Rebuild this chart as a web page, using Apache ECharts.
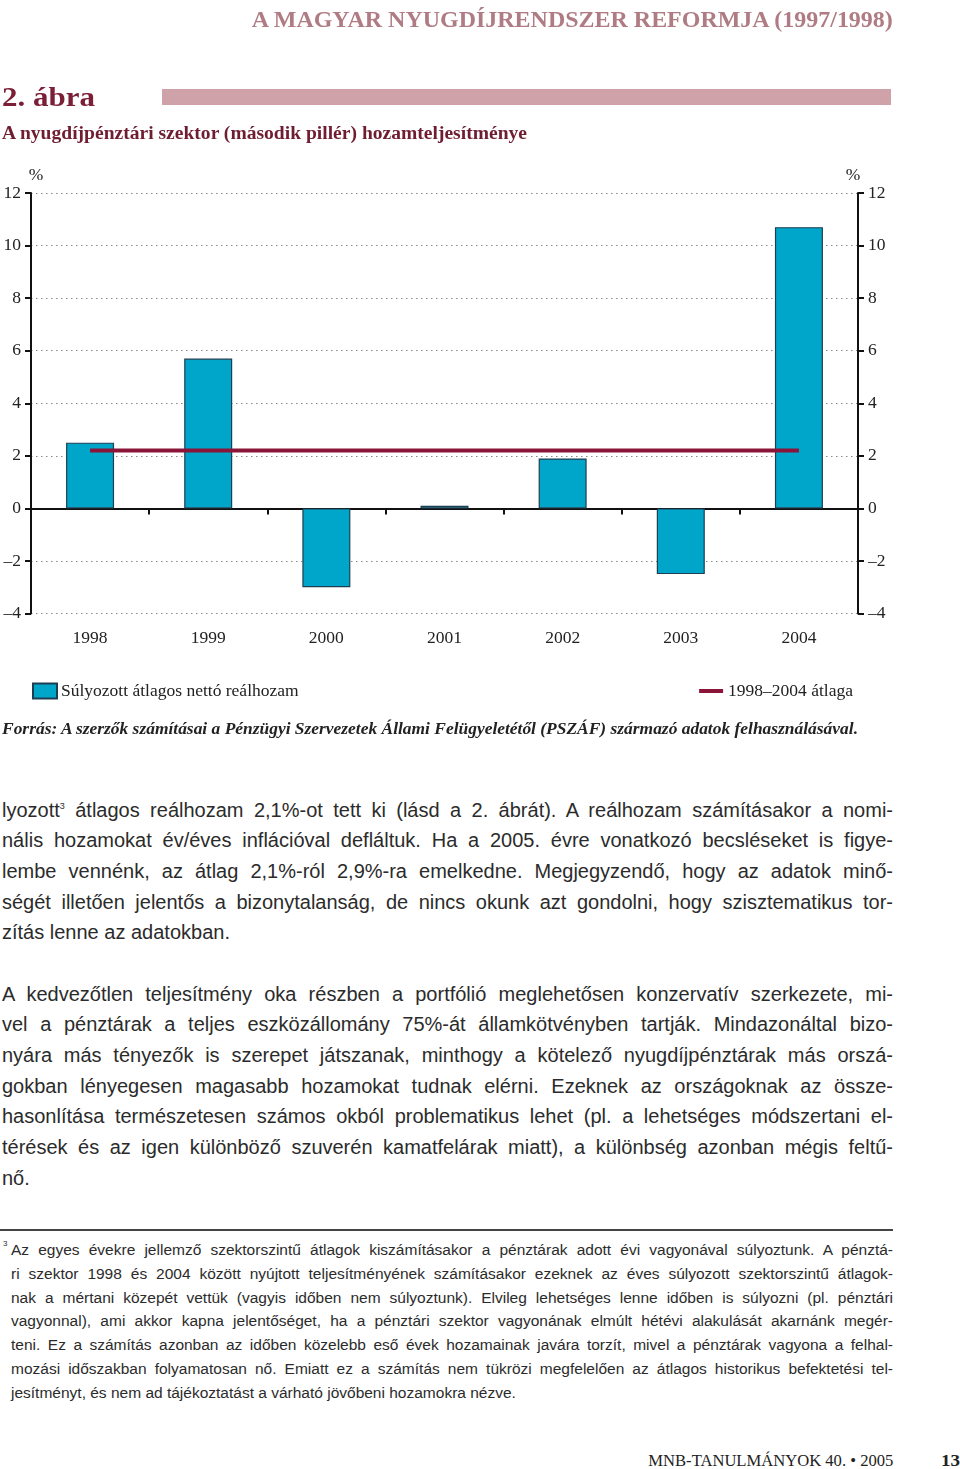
<!DOCTYPE html>
<html>
<head>
<meta charset="utf-8">
<script src="https://cdn.jsdelivr.net/npm/echarts@6/dist/echarts.min.js"></script>
<style>
  html, body { margin: 0; padding: 0; background: #fff; }
  body { width: 960px; height: 1469px; position: relative; overflow: hidden; }
  .abs { position: absolute; white-space: nowrap; }
  .serif { font-family: "Liberation Serif", "DejaVu Serif", serif; }
  .fit { display: inline-block; }
  #chart { position: absolute; left: 0; top: 0; width: 960px; height: 760px; }
  .body { position: absolute; font-family: "Liberation Sans", Arial, sans-serif; color: #2b2b2b; }
  .body div { white-space: nowrap; overflow: visible; }
  .body div.j { text-align: justify; text-align-last: justify; }
  .p1 div { height: 30.7px; }
  .p2 div { height: 23.8px; }
  sup { font-size: 0.45em; vertical-align: 0; position: relative; top: -0.9em; line-height: 0; }
</style>
</head>
<body>
<div id="chart"></div>

<div class="abs serif" style="right:67px; top:6px; line-height:26px; font-size:24px; font-weight:bold; color:#b07c84;">
  <span class="fit" data-w="641" data-o="right">A MAGYAR NYUGDÍJRENDSZER REFORMJA (1997/1998)</span>
</div>
<div class="abs serif" style="left:2px; top:82px; line-height:30px; font-size:28px; font-weight:bold; color:#7a1f36;">
  <span class="fit" data-w="93" data-o="left">2. ábra</span>
</div>
<div class="abs" style="left:162px; top:89px; width:729px; height:16px; background:#cfa2a9;"></div>
<div class="abs serif" style="left:2px; top:123px; line-height:20px; font-size:18px; font-weight:bold; color:#6f1d31;">
  <span class="fit" data-w="525" data-o="left">A nyugdíjpénztári szektor (második pillér) hozamteljesítménye</span>
</div>
<div class="abs serif" style="left:2px; top:719px; line-height:20px; font-size:16px; font-weight:bold; font-style:italic; color:#222;">
  <span class="fit" data-w="856" data-o="left">Forrás: A szerzők számításai a Pénzügyi Szervezetek Állami Felügyeletétől (PSZÁF) származó adatok felhasználásával.</span>
</div>

<div class="body p1" style="left:2px; top:794.6px; width:891px; font-size:20px; line-height:30.7px;">
  <div class="j">lyozott<sup>3</sup> átlagos reálhozam 2,1%-ot tett ki (lásd a 2. ábrát). A reálhozam számításakor a nomi-</div>
  <div class="j">nális hozamokat év/éves inflációval defláltuk. Ha a 2005. évre vonatkozó becsléseket is figye-</div>
  <div class="j">lembe vennénk, az átlag 2,1%-ról 2,9%-ra emelkedne. Megjegyzendő, hogy az adatok minő-</div>
  <div class="j">ségét illetően jelentős a bizonytalanság, de nincs okunk azt gondolni, hogy szisztematikus tor-</div>
  <div>zítás lenne az adatokban.</div>
  <div>&nbsp;</div>
  <div class="j">A kedvezőtlen teljesítmény oka részben a portfólió meglehetősen konzervatív szerkezete, mi-</div>
  <div class="j">vel a pénztárak a teljes eszközállomány 75%-át államkötvényben tartják. Mindazonáltal bizo-</div>
  <div class="j">nyára más tényezők is szerepet játszanak, minthogy a kötelező nyugdíjpénztárak más orszá-</div>
  <div class="j">gokban lényegesen magasabb hozamokat tudnak elérni. Ezeknek az országoknak az össze-</div>
  <div class="j">hasonlítása természetesen számos okból problematikus lehet (pl. a lehetséges módszertani el-</div>
  <div class="j">térések és az igen különböző szuverén kamatfelárak miatt), a különbség azonban mégis feltű-</div>
  <div>nő.</div>
</div>

<div class="abs" style="left:0; top:1229px; width:893px; height:2px; background:#444;"></div>
<div class="abs" style="left:3px; top:1240px; font-family:'Liberation Sans',Arial,sans-serif; font-size:8px; line-height:8px; color:#2b2b2b;">3</div>
<div class="body p2" style="left:11px; top:1238.1px; width:882px; font-size:15.5px; line-height:23.8px;">
  <div class="j">Az egyes évekre jellemző szektorszintű átlagok kiszámításakor a pénztárak adott évi vagyonával súlyoztunk. A pénztá-</div>
  <div class="j">ri szektor 1998 és 2004 között nyújtott teljesítményének számításakor ezeknek az éves súlyozott szektorszintű átlagok-</div>
  <div class="j">nak a mértani közepét vettük (vagyis időben nem súlyoztunk). Elvileg lehetséges lenne időben is súlyozni (pl. pénztári</div>
  <div class="j">vagyonnal), ami akkor kapna jelentőséget, ha a pénztári szektor vagyonának elmúlt hétévi alakulását akarnánk megér-</div>
  <div class="j">teni. Ez a számítás azonban az időben közelebb eső évek hozamainak javára torzít, mivel a pénztárak vagyona a felhal-</div>
  <div class="j">mozási időszakban folyamatosan nő. Emiatt ez a számítás nem tükrözi megfelelően az átlagos historikus befektetési tel-</div>
  <div>jesítményt, és nem ad tájékoztatást a várható jövőbeni hozamokra nézve.</div>
</div>

<div class="abs serif" style="right:67px; top:1452px; line-height:18px; font-size:16px; color:#222;">
  <span class="fit" data-w="245" data-o="right">MNB-TANULMÁNYOK 40. • 2005</span>
</div>
<div class="abs serif" style="right:0px; top:1452px; line-height:18px; font-size:17px; font-weight:bold; color:#222;">
  <span class="fit" data-w="19" data-o="right">13</span>
</div>

<script>
// ---- data ----
const years = ['1998', '1999', '2000', '2001', '2002', '2003', '2004'];
const netRealReturn = [2.5, 5.7, -3.0, 0.1, 1.9, -2.5, 10.7];
const periodAverage = [2.2, 2.2, 2.2, 2.2, 2.2, 2.2, 2.2];
const seriesNames = ['Súlyozott átlagos nettó reálhozam', '1998–2004 átlaga'];
const yMin = -4, yMax = 12, yStep = 2;

// ---- text fitting ----
document.querySelectorAll('.fit').forEach(el => {
  const w = el.getBoundingClientRect().width;
  const target = +el.dataset.w;
  el.style.transformOrigin = el.dataset.o + ' center';
  el.style.transform = 'scaleX(' + (target / w) + ')';
});
document.querySelectorAll('.body div.j').forEach(el => {
  const over = el.scrollWidth - el.clientWidth;
  if (over > 0) {
    const n = el.textContent.length;
    el.style.letterSpacing = (-(over + 2) / n) + 'px';
  }
});

// ---- chart ----
const serif = '"Liberation Serif", "DejaVu Serif", serif';
const fmt = v => String(v).replace('-', '–');
const chart = echarts.init(document.getElementById('chart'), null, { renderer: 'canvas' });
const yAxisBase = {
  type: 'value', min: yMin, max: yMax, interval: yStep,
  name: '%', nameLocation: 'end', nameGap: 9,
  axisLine: { show: true, onZero: false, lineStyle: { color: '#111', width: 2 } },
  axisTick: { show: true, inside: false, length: 6, lineStyle: { color: '#111', width: 2 } },
  axisLabel: { formatter: fmt, fontFamily: serif, fontSize: 17.5, color: '#222', margin: 10 }
};
chart.setOption({
  animation: false,
  grid: { left: 31, right: 102, top: 193, bottom: 146.5 },
  legend: [
    {
      left: 32, top: 682, padding: 0, itemWidth: 24, itemHeight: 15, itemGap: 10,
      data: [{ name: seriesNames[0], icon: 'rect' }],
      textStyle: { fontFamily: serif, fontSize: 17.5, color: '#222', padding: [0, 0, 0, -1] }
    },
    {
      right: 107, top: 682, padding: 0, itemWidth: 24, itemHeight: 4, itemGap: 10,
      data: [{ name: seriesNames[1], icon: 'rect' }],
      textStyle: { fontFamily: serif, fontSize: 17.5, color: '#222' }
    }
  ],
  xAxis: [
    {
      type: 'category', data: years, position: 'bottom',
      axisLine: { show: true, onZero: true, lineStyle: { color: '#111', width: 2 } },
      axisTick: { show: true, alignWithLabel: false, length: 6, lineStyle: { color: '#111', width: 2 } },
      axisLabel: { show: false },
      splitLine: { show: false }
    },
    {
      type: 'category', data: years, position: 'bottom', offset: 0,
      axisLine: { show: false, onZero: false },
      axisTick: { show: false },
      axisLabel: { show: true, fontFamily: serif, fontSize: 17.5, color: '#222', margin: 16 },
      splitLine: { show: false }
    }
  ],
  yAxis: [
    Object.assign({}, yAxisBase, {
      position: 'left',
      nameTextStyle: { fontFamily: serif, fontSize: 17.5, color: '#222', padding: [0, 0, 0, 10] },
      splitLine: { show: true, lineStyle: { color: '#8a8a8a', type: [1.5, 3.5], width: 1.2 } }
    }),
    Object.assign({}, yAxisBase, {
      position: 'right',
      nameTextStyle: { fontFamily: serif, fontSize: 17.5, color: '#222', padding: [0, 10, 0, 0] },
      splitLine: { show: false }
    })
  ],
  series: [
    {
      name: seriesNames[0], type: 'bar', data: netRealReturn,
      xAxisIndex: 0, yAxisIndex: 0, barWidth: 48,
      itemStyle: { color: '#00a6c9', borderColor: '#1d3f52', borderWidth: 1.2 },
      z: 2
    },
    {
      name: seriesNames[1], type: 'line', data: periodAverage,
      xAxisIndex: 0, yAxisIndex: 0, symbol: 'none',
      lineStyle: { color: '#8a1538', width: 4 },
      itemStyle: { color: '#8a1538' },
      z: 3
    }
  ]
});
</script>
</body>
</html>
